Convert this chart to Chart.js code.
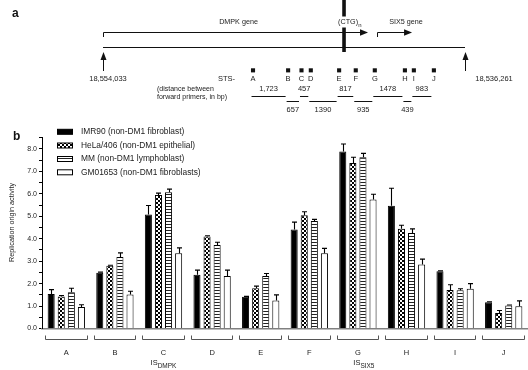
<!DOCTYPE html>
<html><head><meta charset="utf-8">
<script src="https://cdn.jsdelivr.net/npm/chart.js@4/dist/chart.umd.min.js"></script>
<style>
html,body{margin:0;padding:0;background:#fff;width:528px;height:370px;overflow:hidden}
#wa{position:absolute;left:0;top:0;width:528px;height:122px}
#wb{position:absolute;left:0;top:122px;width:528px;height:248px}
</style></head><body>
<div id="wa"><canvas id="ca"></canvas></div>
<div id="wb"><canvas id="cb"></canvas></div>
<script>
// ---------- data: panel a (genomic map) ----------
const leftCoord = 18554033;
const rightCoord = 18536261;
const stsNames = ['A','B','C','D','E','F','G','H','I','J'];
const stsGaps = [1723, 657, 457, 1390, 817, 935, 1478, 439, 983];
const gapLabels = ['1,723','657','457','1390','817','935','1478','439','983'];
const stsAOffsetBp = 7365;      // A, bp from left end (estimated)
const ctgOffsetBp = 11833;      // (CTG)n repeat (estimated)
const dmpkEndBp = 13011;        // DMPK gene arrow tip (estimated)
const six5StartBp = 13453;      // SIX5 gene start (estimated)
const six5EndBp = 15172;        // SIX5 arrow tip (estimated)

// ---------- data: panel b (bar chart) ----------
const categories = ['A','B','C','D','E','F','G','H','I','J'];
const seriesNames = ['IMR90 (non-DM1 fibroblast)','HeLa/406 (non-DM1 epithelial)','MM (non-DM1 lymphoblast)','GM01653 (non-DM1 fibroblasts)'];
const imr90   = [1.54, 2.48, 5.08, 2.39, 1.41, 4.41, 7.88, 5.47, 2.55, 1.17];
const imr90Err= [0.19, 0.03, 0.40, 0.21, 0.02, 0.33, 0.34, 0.78, 0.02, 0.02];
const hela    = [1.43, 2.79, 5.95, 4.10, 1.79, 5.05, 7.37, 4.44, 1.71, 0.69];
const helaErr = [0.04, 0.03, 0.08, 0.03, 0.10, 0.15, 0.26, 0.16, 0.24, 0.11];
const mm      = [1.61, 3.19, 6.07, 3.72, 2.34, 4.79, 7.63, 4.26, 1.70, 1.02];
const mmErr   = [0.18, 0.18, 0.14, 0.12, 0.11, 0.07, 0.17, 0.18, 0.07, 0.03];
const gm      = [0.96, 1.52, 3.35, 2.34, 1.25, 3.35, 5.75, 2.85, 1.77, 0.99];
const gmErr   = [0.10, 0.14, 0.24, 0.26, 0.25, 0.22, 0.23, 0.24, 0.23, 0.24];
const yTickMax = 8.5;

const FONT = '"Liberation Sans", Arial, Helvetica, sans-serif';
const spanBp = leftCoord - rightCoord;
const stsPos = stsGaps.reduce((a, g) => { a.push(a[a.length - 1] + g); return a; }, [stsAOffsetBp]);

// ================= Panel a =================
function tri(ctx, pts){ ctx.beginPath(); ctx.moveTo(pts[0][0],pts[0][1]); ctx.lineTo(pts[1][0],pts[1][1]); ctx.lineTo(pts[2][0],pts[2][1]); ctx.closePath(); ctx.fill(); }

const mapPlugin = {
  id: 'mapPlugin',
  afterDraw(chart) {
    const ctx = chart.ctx;
    const X = v => chart.scales.x.getPixelForValue(v);
    ctx.save();
    ctx.strokeStyle = '#111'; ctx.fillStyle = '#111'; ctx.lineWidth = 1;
    const x0 = X(0), x1 = X(spanBp);
    // main line
    ctx.beginPath(); ctx.moveTo(x0, 47.5); ctx.lineTo(x1, 47.5); ctx.stroke();
    // coordinate arrows
    [x0, x1].forEach(x => {
      ctx.beginPath(); ctx.moveTo(Math.round(x)+0.5, 71); ctx.lineTo(Math.round(x)+0.5, 58); ctx.stroke();
      tri(ctx, [[x+0.5, 52], [x-2.5, 60], [x+3.5, 60]]);
    });
    ctx.font = '7.5px ' + FONT; ctx.textAlign = 'center'; ctx.textBaseline = 'middle';
    ctx.fillStyle = '#222';
    ctx.fillText(leftCoord.toLocaleString('en-US'), x0 + 5, 79);
    ctx.fillText(rightCoord.toLocaleString('en-US'), x1 + 29, 79);
    ctx.fillStyle = '#111';
    // DMPK gene arrow
    const xd = X(dmpkEndBp);
    ctx.beginPath(); ctx.moveTo(x0+0.5, 37); ctx.lineTo(x0+0.5, 32.5); ctx.lineTo(xd - 7, 32.5); ctx.stroke();
    tri(ctx, [[xd, 32.5], [xd - 8, 29.2], [xd - 8, 35.8]]);
    // SIX5 gene arrow
    const xs = X(six5StartBp), xe = X(six5EndBp);
    ctx.beginPath(); ctx.moveTo(xs+0.5, 37); ctx.lineTo(xs+0.5, 32.5); ctx.lineTo(xe - 7, 32.5); ctx.stroke();
    tri(ctx, [[xe, 32.5], [xe - 8, 29.2], [xe - 8, 35.8]]);
    // CTG repeat bar, interrupted behind its label
    const xc = X(ctgOffsetBp);
    ctx.fillRect(xc - 1.8, 0, 3.6, 52);
    ctx.fillStyle = '#fff';
    ctx.fillRect(xc - 10, 16.5, 24, 11);
    // gene texts
    ctx.fillStyle = '#222';
    ctx.font = '7.2px ' + FONT;
    ctx.fillText('DMPK gene', (x0 + xd) / 2 + 3, 22);
    ctx.fillText('SIX5 gene', xe - 6, 22);
    ctx.textAlign = 'right';
    ctx.fillText('(CTG)', xc + 14, 22);
    ctx.textAlign = 'left';
    ctx.font = '6px ' + FONT;
    ctx.fillText('n', xc + 14.3, 25);
    // STS labels
    ctx.font = '7.5px ' + FONT;
    ctx.textAlign = 'right';
    ctx.fillText('STS-', 235, 79);
    ctx.textAlign = 'center';
    stsNames.forEach((n, i) => ctx.fillText(n, X(stsPos[i]), 79));
    // distance legend
    ctx.textAlign = 'left';
    ctx.font = '7px ' + FONT;
    ctx.fillText('(distance between', 157, 89);
    ctx.fillText('forward primers, in bp)', 157, 97);
    ctx.textAlign = 'center';
    ctx.font = '7.5px ' + FONT;
    stsGaps.forEach((g, i) => {
      const a = X(stsPos[i]) - 1.5, b = X(stsPos[i + 1]) - 2.5;
      const upper = i % 2 === 0;
      const ly = upper ? 96.5 : 101.5;
      ctx.beginPath(); ctx.moveTo(a, ly); ctx.lineTo(b, ly); ctx.stroke();
      ctx.fillText(gapLabels[i], (a + b) / 2, upper ? 89 : 110);
    });
    // panel letter
    ctx.textAlign = 'left'; ctx.textBaseline = 'alphabetic';
    ctx.font = 'bold 12px ' + FONT; ctx.fillStyle = '#111';
    ctx.fillText('a', 12, 17);
    ctx.restore();
  }
};

new Chart(document.getElementById('ca'), {
  type: 'scatter',
  data: { datasets: [{
    data: stsPos.map(p => ({ x: p, y: 71 })),
    pointStyle: 'rect', pointRadius: 2.9, pointBorderWidth: 0,
    backgroundColor: '#111', borderColor: '#111'
  }]},
  options: {
    responsive: true, maintainAspectRatio: false, animation: false, devicePixelRatio: 1,
    layout: { padding: { left: 103, right: 63, top: 0, bottom: 0 } },
    plugins: { legend: { display: false }, tooltip: { enabled: false } },
    scales: {
      x: { type: 'linear', min: 0, max: spanBp, display: false },
      y: { type: 'linear', min: 0, max: 122, reverse: true, display: false }
    }
  },
  plugins: [mapPlugin]
});

// ================= Panel b =================
const cb = document.getElementById('cb');
const cbx = cb.getContext('2d');
function makeTile(kind) {
  const t = document.createElement('canvas');
  const c = t.getContext('2d');
  if (kind === 'checker') {
    t.width = 4; t.height = 4;
    c.fillStyle = '#fff'; c.fillRect(0, 0, 4, 4);
    c.fillStyle = '#000'; c.fillRect(0, 0, 2, 2); c.fillRect(2, 2, 2, 2);
  } else {
    t.width = 3; t.height = 3;
    c.fillStyle = '#fff'; c.fillRect(0, 0, 3, 3);
    c.fillStyle = '#222'; c.fillRect(0, 0, 3, 1);
  }
  return cbx.createPattern(t, 'repeat');
}
const fills = ['#000', makeTile('checker'), makeTile('stripe'), '#fff'];
const seriesVals = [imr90, hela, mm, gm];
const seriesErrs = [imr90Err, helaErr, mmErr, gmErr];

const barPlugin = {
  id: 'barPlugin',
  afterDatasetsDraw(chart) {
    const ctx = chart.ctx, ys = chart.scales.y, xs = chart.scales.x, ca = chart.chartArea;
    ctx.save();
    // error bars
    ctx.strokeStyle = '#000'; ctx.lineWidth = 1.1;
    chart.data.datasets.forEach((ds, di) => {
      const meta = chart.getDatasetMeta(di);
      meta.data.forEach((el, i) => {
        const top = ys.getPixelForValue(ds.data[i] + seriesErrs[di][i]);
        const x = Math.round(el.x) + 0.5;
        ctx.beginPath();
        ctx.moveTo(x, el.y); ctx.lineTo(x, top);
        ctx.moveTo(x - 2.5, top); ctx.lineTo(x + 2.5, top);
        ctx.stroke();
      });
    });
    // brackets & category labels
    const half = (ca.right - ca.left) / categories.length / 2;
    ctx.strokeStyle = '#555'; ctx.lineWidth = 1;
    ctx.fillStyle = '#222';
    ctx.font = '7.5px ' + FONT; ctx.textAlign = 'center'; ctx.textBaseline = 'middle';
    categories.forEach((c, i) => {
      const cx = xs.getPixelForValue(i);
      const l = Math.round(cx - half + 3) + 0.5, r = Math.round(cx + half - 3) - 0.5;
      const by = 217.5;
      ctx.beginPath();
      ctx.moveTo(l, by - 4); ctx.lineTo(l, by); ctx.lineTo(r, by); ctx.lineTo(r, by - 4);
      ctx.stroke();
      ctx.fillText(c, cx, 231);
    });
    // IS labels
    function isLabel(sub, cx) {
      ctx.font = '7.5px ' + FONT;
      const w1 = ctx.measureText('IS').width;
      ctx.font = '6.5px ' + FONT;
      const w2 = ctx.measureText(sub).width;
      const sx = cx - (w1 + w2) / 2;
      ctx.textAlign = 'left';
      ctx.font = '7.5px ' + FONT; ctx.fillText('IS', sx, 241);
      ctx.font = '6.5px ' + FONT; ctx.fillText(sub, sx + w1, 244.5);
    }
    isLabel('DMPK', xs.getPixelForValue(2));
    isLabel('SIX5', xs.getPixelForValue(6) + 6);
    // legend
    ctx.textAlign = 'left';
    ctx.font = '8.4px ' + FONT;
    const rows = [9.8, 23.5, 37.0, 50.3];
    seriesNames.forEach((n, i) => {
      ctx.fillStyle = fills[i];
      ctx.fillRect(57.5, rows[i] - 2.5, 15, 5);
      ctx.strokeStyle = '#000'; ctx.lineWidth = 1;
      ctx.strokeRect(57.5, rows[i] - 2.5, 15, 5);
      ctx.fillStyle = '#222';
      ctx.fillText(n, 81, rows[i]);
    });
    // y title
    ctx.save();
    ctx.translate(12, 100.5); ctx.rotate(-Math.PI / 2);
    ctx.textAlign = 'center'; ctx.font = '7.2px ' + FONT; ctx.fillStyle = '#222';
    ctx.fillText('Replication origin activity', 0, 0);
    ctx.restore();
    // panel letter
    ctx.textBaseline = 'alphabetic';
    ctx.font = 'bold 12px ' + FONT; ctx.fillStyle = '#111';
    ctx.fillText('b', 13, 18);
    ctx.restore();
  }
};

new Chart(cb, {
  type: 'bar',
  data: {
    labels: categories,
    datasets: seriesNames.map((n, i) => ({
      label: n, data: seriesVals[i],
      backgroundColor: fills[i], borderColor: '#000', borderWidth: 1,
      categoryPercentage: 0.83, barPercentage: 0.7
    }))
  },
  options: {
    responsive: true, maintainAspectRatio: false, animation: false, devicePixelRatio: 1,
    layout: { padding: { left: 0, right: 0, top: 15.7, bottom: 0 } },
    plugins: { legend: { display: false }, tooltip: { enabled: false } },
    scales: {
      x: {
        grid: { display: false },
        border: { display: true, color: '#808080', width: 1.6 },
        ticks: { display: false },
        afterFit(s) { s.height = 41.5; }
      },
      y: {
        min: 0, max: yTickMax,
        ticks: {
          stepSize: 0.5, autoSkip: false, padding: 2, color: '#222',
          font: { family: FONT, size: 7 },
          callback: v => Number.isInteger(v) ? v.toFixed(1) : ''
        },
        grid: { drawOnChartArea: false, drawTicks: true, tickLength: 3, color: '#000' },
        border: { display: true, color: '#000', width: 1 },
        afterFit(s) { s.width = 42; }
      }
    }
  },
  plugins: [barPlugin]
});
</script>
</body></html>
